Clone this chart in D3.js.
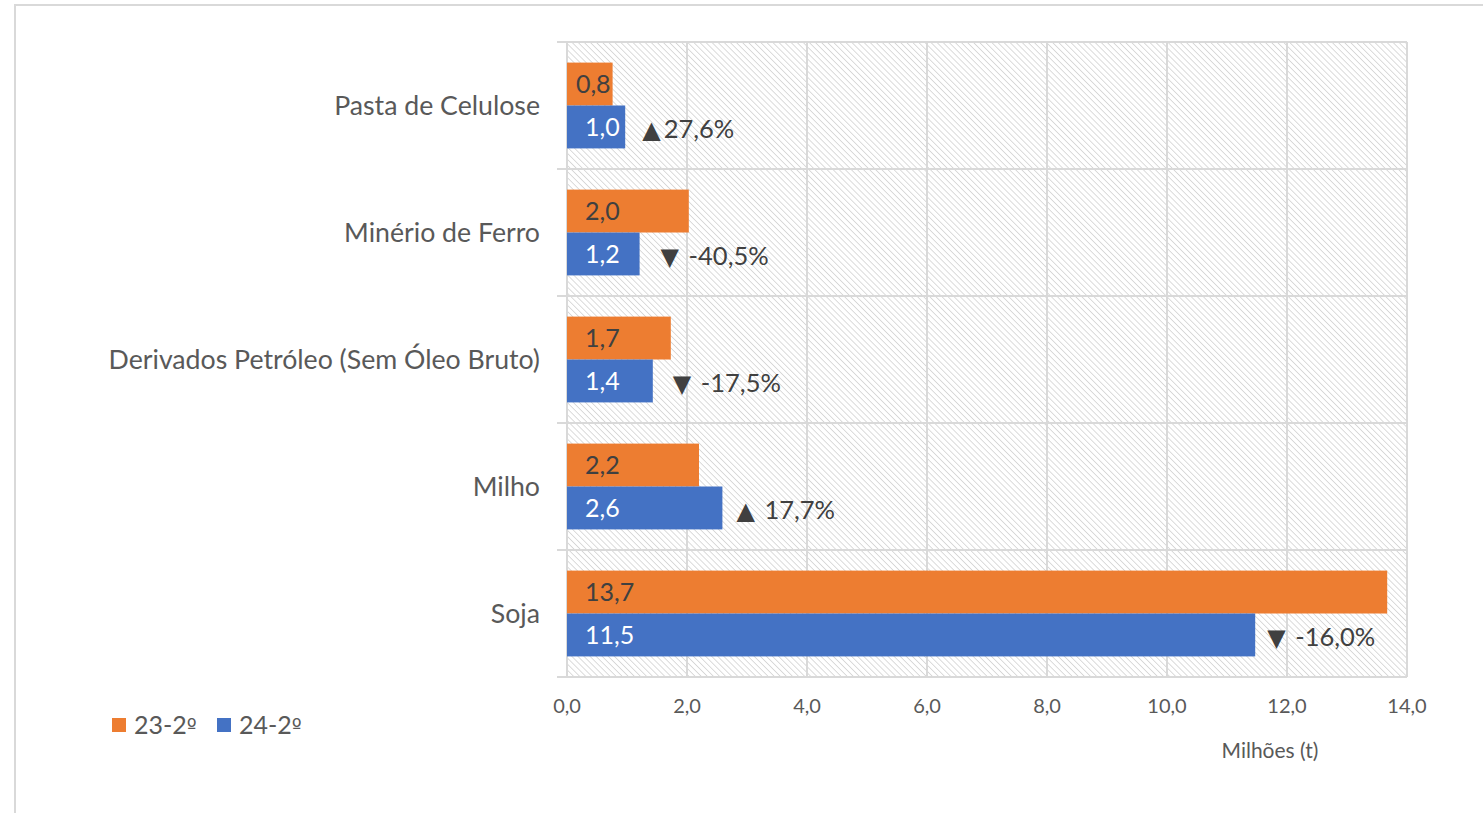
<!DOCTYPE html>
<html><head><meta charset="utf-8">
<script src="https://cdn.jsdelivr.net/npm/d3@7"></script>
<style>body{margin:0;background:#fff;}svg{display:block;font-family:Lato,"Open Sans",sans-serif;}</style>
</head><body>
<svg id="c" width="1483" height="813"></svg>
<script>
const categories = ["Pasta de Celulose","Minério de Ferro","Derivados Petróleo (Sem Óleo Bruto)","Milho","Soja"];
const seriesNames = ["23-2","24-2"];
const seriesSuffix = "º";
const values2023 = [0.76, 2.03, 1.73, 2.20, 13.67];
const values2024 = [0.97, 1.21, 1.43, 2.59, 11.47];
const changeArrows = ["▲","▼","▼","▲","▼"];
const changeTexts = ["27,6%"," -40,5%"," -17,5%"," 17,7%"," -16,0%"];
const changeGaps = [17, 21, 20, 14, 12];
const xTicks = [0,2,4,6,8,10,12,14];
const axisTitle = "Milhões (t)";
const colors = ["#ED7D31","#4472C4"];

const svg = d3.select("#c");
const fmt = v => d3.format(".1f")(v).replace(".", ",");

// outer frame
svg.append("path").attr("d","M15,813 V5 H1483").attr("fill","none").attr("stroke","#d9d9d9").attr("stroke-width",2);

const L = 567, R = 1407, T = 42, B = 677;
const x = d3.scaleLinear().domain([0,14]).range([L,R]);
const y = d3.scaleBand().domain(categories).range([T,B]);
const inner = d3.scaleBand().domain([0,1]).range([0, y.bandwidth()]).paddingOuter(0.48).paddingInner(0);

// hatch pattern
const defs = svg.append("defs");
const pat = defs.append("pattern").attr("id","hatch").attr("patternUnits","userSpaceOnUse")
  .attr("width",4.3).attr("height",4.3).attr("patternTransform","rotate(-45)");
pat.append("rect").attr("width",4.3).attr("height",4.3).attr("fill","#fff");
pat.append("line").attr("x1",0).attr("y1",0).attr("x2",0).attr("y2",4.3).attr("stroke","#d6d6d6").attr("stroke-width",1.7);

svg.append("rect").attr("x",L).attr("y",T).attr("width",R-L).attr("height",B-T).attr("fill","url(#hatch)");

// grid lines
const g = svg.append("g");
g.selectAll("line.v").data(xTicks).join("line").attr("class","v")
  .attr("x1",d=>x(d)).attr("x2",d=>x(d)).attr("y1",T).attr("y2",B)
  .attr("stroke","#d9d9d9").attr("stroke-width",2);
const hEdges = categories.map(c=>y(c)).concat([B]);
g.selectAll("line.h").data(hEdges).join("line").attr("class","h")
  .attr("x1",557).attr("x2",R).attr("y1",d=>d).attr("y2",d=>d)
  .attr("stroke","#d9d9d9").attr("stroke-width",2);

// bars
const rows = categories.map((c,i)=>({c, i, vals:[values2023[i], values2024[i]]}));
const rg = svg.append("g").selectAll("g").data(rows).join("g").attr("transform",d=>`translate(0,${y(d.c)})`);
rg.selectAll("rect").data(d=>d.vals.map((v,k)=>({v,k}))).join("rect")
  .attr("x",x(0)).attr("y",d=>inner(d.k)).attr("width",d=>x(d.v)-x(0)).attr("height",inner.bandwidth())
  .attr("fill",d=>colors[d.k]);
rg.selectAll("text.val").data(d=>d.vals.map((v,k)=>({v,k}))).join("text").attr("class","val")
  .attr("y",d=>inner(d.k)+inner.bandwidth()/2).attr("dy","0.36em")
  .attr("font-size",25).attr("fill",d=>d.k===0?"#404040":"#ffffff").text(d=>fmt(d.v))
  .each(function(d){
    const w = this.getComputedTextLength();
    const end = x(d.v);
    d3.select(this).attr("x", Math.max(x(0)+4, Math.min(x(0)+18, end - w - 2)));
  });
const ct = rg.append("text").attr("x",d=>x(d.vals[1])+changeGaps[d.i]).attr("y",inner(1)+inner.bandwidth()/2+2).attr("dy","0.36em")
  .attr("font-size",25.5).attr("fill","#404040");
ct.append("tspan").attr("font-family","'DejaVu Sans'").attr("font-size",24).text(d=>changeArrows[d.i]);
ct.append("tspan").attr("dx",3).text(d=>changeTexts[d.i]);

// category labels
svg.append("g").selectAll("text").data(categories).join("text")
  .attr("x",540).attr("y",d=>y(d)+y.bandwidth()/2).attr("dy","0.36em").attr("text-anchor","end")
  .attr("font-size",26.7).attr("fill","#595959").text(d=>d);

// x axis labels
svg.append("g").selectAll("text").data(xTicks).join("text")
  .attr("x",d=>x(d)).attr("y",706).attr("dy","0.36em").attr("text-anchor","middle")
  .attr("font-size",20).attr("fill","#595959").text(d=>fmt(d));
svg.append("text").attr("x",1270).attr("y",750).attr("dy","0.36em").attr("text-anchor","middle")
  .attr("font-size",21).attr("fill","#595959").text(axisTitle);

// legend
const lg = svg.append("g").selectAll("g").data(seriesNames).join("g")
  .attr("transform",(d,i)=>`translate(${112+i*105},718)`);
lg.append("rect").attr("width",14).attr("height",14).attr("fill",(d,i)=>colors[i]);
const lt = lg.append("text").attr("x",22).attr("y",7).attr("dy","0.36em").attr("font-size",25).attr("fill","#595959");
lt.append("tspan").text(d=>d);
lt.append("tspan").attr("font-family","'DejaVu Sans'").attr("font-size",21).text(seriesSuffix);
</script>
</body></html>
